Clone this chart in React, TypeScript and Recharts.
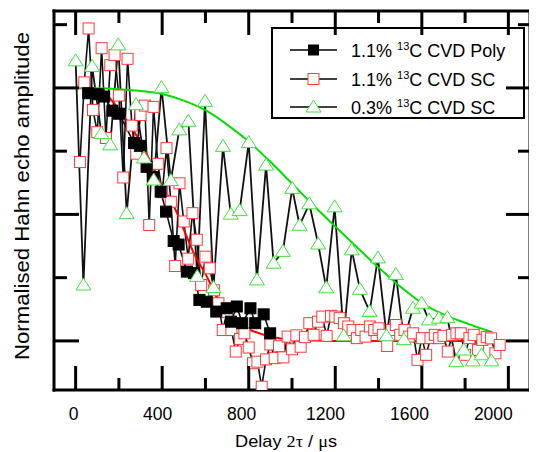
import React from "react";
import { LineChart, Line, XAxis, YAxis, Legend } from "recharts";

// x = delay 2tau (us), y = normalised Hahn echo amplitude
const xTicks = [0, 200, 400, 600, 800, 1000, 1200, 1400, 1600, 1800, 2000];
const yTicks = [0, 0.25, 0.5, 0.75, 1, 1.25];

// 1.1% 13C CVD Poly (filled black squares)
const polyT = [58, 105, 132, 170, 201, 270, 297, 328, 358, 393, 418, 453, 476, 514, 547, 572, 606, 650, 698, 718, 745, 770, 808, 830, 869, 899];
const polyA = [0.979, 0.975, 0.966, 0.91, 0.898, 0.782, 0.771, 0.688, 0.648, 0.59, 0.511, 0.395, 0.381, 0.274, 0.268, 0.162, 0.155, 0.116, 0.129, 0.076, 0.136, 0.07, 0.129, 0.07, 0.105, 0.03];

// 1.1% 13C CVD SC (open red squares)
const scT = [
  20, 40, 60, 80, 100, 120, 140, 160, 180, 200, 220, 240, 260, 280, 300, 320, 340, 360, 380, 400,
  420, 440, 460, 480, 500, 520, 540, 560, 580, 600, 620, 640, 660, 680, 700, 720, 740, 760, 780, 800,
  820, 840, 860, 880, 900, 920, 940, 960, 980, 1000, 1020, 1040, 1060, 1080, 1100, 1120, 1140, 1160, 1180, 1200,
  1220, 1240, 1260, 1280, 1300, 1320, 1340, 1360, 1380, 1400, 1420, 1440, 1460, 1480, 1500, 1520, 1540, 1560, 1580, 1600,
  1620, 1640, 1660, 1680, 1700, 1720, 1740, 1760, 1780, 1800, 1820, 1840, 1860, 1880, 1900, 1920, 1940, 1960,
];
const scA = [
  0.707, 1.022, 1.235, 0.913, 0.825, 1.157, 0.802, 1.09, 1.13, 0.97, 0.646, 1.115, 0.851, 0.74, 0.893, 0.93, 0.458, 0.925, 0.7, 0.588,
  0.762, 0.55, 0.296, 0.623, 0.472, 0.325, 0.505, 0.4, 0.221, 0.333, 0.287, 0.2, 0.149, 0.043, 0.115, 0.043, -0.042, 0.008, 0.03, -0.026,
  -0.088, -0.082, -0.181, -0.073, -0.014, -0.068, -0.021, -0.065, 0.017, -0.033, 0.022, -0.023, 0.015, 0.07, 0.024, 0.076, 0.096, 0.02, 0.099, 0.096,
  0.09, 0.07, 0.057, 0.043, 0.011, 0.043, 0.017, 0.057, 0.043, 0.05, 0.024, -0.02, 0.043, 0.063, 0.024, 0.043, 0.017, 0.03, -0.075, 0.011,
  -0.055, 0.011, 0.024, 0.011, 0.02, -0.042, 0.024, 0.03, 0.03, -0.055, 0.011, 0.024, -0.036, 0.004, 0.015, 0.01, -0.049, -0.016,
];

// 0.3% 13C CVD SC (open green triangles)
const lowT = [0, 36, 76, 119, 160, 197, 236, 279, 316, 361, 397, 440, 479, 521, 562, 598, 637, 681, 717, 758, 800, 838, 880, 915, 958, 1001, 1035, 1080, 1121, 1158, 1197, 1239, 1276, 1314, 1359, 1397, 1437, 1480, 1517, 1559, 1599, 1633, 1679, 1718, 1759, 1794, 1836, 1876, 1922];
const lowA = [1.107, 0.221, 1.085, 0.82, 0.775, 1.17, 0.503, 0.934, 0.723, 0.636, 1.001, 0.634, 0.834, 0.868, 0.255, 0.947, 0.211, 0.769, 0.501, 0.515, 0.784, 0.241, 0.695, 0.307, 0.354, 0.603, 0.457, 0.542, 0.383, 0.21, 0.53, 0.02, 0.36, 0.204, 0.116, 0.328, 0.02, 0.263, 0.005, 0.129, 0.149, 0.083, 0.09, 0.092, -0.082, -0.036, -0.079, -0.055, -0.079];

// fitted decay curves
const redFitT = [0, 50, 100, 150, 200, 250, 300, 350, 400, 450, 500, 550, 600, 650, 700, 750, 800, 850, 900, 950, 1000, 1100, 1200, 1400, 1600, 1800, 1975];
const redFitA = [1.0, 0.997, 0.988, 0.965, 0.915, 0.853, 0.785, 0.7, 0.61, 0.54, 0.44, 0.34, 0.265, 0.18, 0.115, 0.075, 0.046, 0.03, 0.017, 0.01, 0.005, 0.002, 0, 0, 0, 0, 0];
const greenFitT = [0, 100, 200, 300, 400, 500, 600, 700, 800, 900, 1000, 1100, 1200, 1300, 1400, 1500, 1600, 1700, 1800, 1900, 1920];
const greenFitA = [1.0, 0.999, 0.995, 0.988, 0.976, 0.95, 0.912, 0.855, 0.788, 0.708, 0.622, 0.535, 0.452, 0.37, 0.29, 0.215, 0.15, 0.105, 0.072, 0.042, 0.037];

const legendPct = ["1.1%", "1.1%", "0.3%"];
const legendTail = ["C CVD Poly", "C CVD SC", "C CVD SC"];

const pts = (t: number[], a: number[]) => t.map((v, i) => ({ t: v, a: a[i] }));
const polyData = pts(polyT, polyA);
const scData = pts(scT, scA);
const lowData = pts(lowT, lowA);
const redFit = pts(redFitT, redFitA);
const greenFit = pts(greenFitT, greenFitA);

const FONT = "'Liberation Sans', Arial, Helvetica, sans-serif";
const RED = "#ff3a3a";
const GREEN = "#3fe23f";

const squareDot = (fill: string, stroke: string) => (p: any) => {
  const { cx, cy, index } = p;
  if (cx == null || cy == null) return <g key={index} />;
  return <rect key={index} x={cx - 5.5} y={cy - 5.5} width={11} height={11} fill={fill} stroke={stroke} strokeWidth={1} />;
};

const triDot = (p: any) => {
  const { cx, cy, index } = p;
  if (cx == null || cy == null) return <g key={index} />;
  return (
    <polygon
      key={index}
      points={`${cx},${cy - 7} ${cx + 7.5},${cy + 5} ${cx - 7.5},${cy + 5}`}
      fill="#fff"
      stroke={GREEN}
      strokeWidth={1}
    />
  );
};

const BottomTick = (p: any) => {
  const { x, y, payload } = p;
  const v = payload.value;
  const major = v % 400 === 0;
  return (
    <g>
      <line x1={x} y1={y} x2={x} y2={y - (major ? 24 : 12)} stroke="#000" strokeWidth={3} />
      {major && (
        <text x={x - 2 - v * 0.0065} y={y + 30} textAnchor="middle" fontSize={17.5} fontFamily={FONT} fill="#000">
          {v}
        </text>
      )}
    </g>
  );
};

const TopTick = (p: any) => {
  const { x, y, payload } = p;
  const major = payload.value % 400 === 0;
  return <line x1={x} y1={y} x2={x} y2={y + (major ? 24 : 12)} stroke="#000" strokeWidth={3} />;
};

const LeftTick = (p: any) => {
  const { x, y, payload } = p;
  const major = Math.abs(payload.value * 2 - Math.round(payload.value * 2)) < 1e-6;
  return <line x1={x} y1={y} x2={x + (major ? 25 : 13)} y2={y} stroke="#000" strokeWidth={3} />;
};

const RightTick = (p: any) => {
  const { x, y, payload } = p;
  const major = Math.abs(payload.value * 2 - Math.round(payload.value * 2)) < 1e-6;
  return <line x1={x} y1={y} x2={x - (major ? 24 : 12)} y2={y} stroke="#000" strokeWidth={3} />;
};

const yTitle = () => (
  <text
    x={21}
    y={188}
    transform="rotate(-90 21 188)"
    textAnchor="middle"
    fontSize={19.5}
    fontFamily={FONT}
    fill="#000"
    textLength={328}
    lengthAdjust="spacingAndGlyphs"
  >
    Normalised Hahn echo amplitude
  </text>
);

const xTitle = () => (
  <text x={227} y={439} fontSize={17} fontFamily={FONT} fill="#000" textLength={102} lengthAdjust="spacingAndGlyphs">
    Delay <tspan fontFamily="'Liberation Serif', 'DejaVu Serif', serif">2τ</tspan> / <tspan fontFamily="'Liberation Serif', 'DejaVu Serif', serif">μ</tspan>s
  </text>
);

const LegendBox = () => {
  const rows = [23, 52, 80];
  return (
    <svg width={255} height={93} style={{ display: "block" }}>
      <rect x={1} y={1} width={252} height={90} fill="none" stroke="#000" strokeWidth={2} />
      {rows.map((cy, i) => (
        <g key={i}>
          <line x1={19} x2={66} y1={cy} y2={cy} stroke="#000" strokeWidth={1.6} />
          {i === 0 && <rect x={37} y={cy - 5.5} width={11} height={11} fill="#000" />}
          {i === 1 && <rect x={37} y={cy - 5.5} width={11} height={11} fill="#fff" stroke={RED} strokeWidth={1} />}
          {i === 2 && (
            <polygon points={`42.5,${cy - 7} 50,${cy + 5} 35,${cy + 5}`} fill="#fff" stroke={GREEN} strokeWidth={1} />
          )}
          <text x={80} y={cy + 6.5} fontSize={18} fontFamily={FONT} fill="#000">
            {legendPct[i]}{" "}
            <tspan fontSize={11} dy={-7}>13</tspan>
            <tspan dy={7}>{legendTail[i]}</tspan>
          </text>
        </g>
      ))}
    </svg>
  );
};

export default function App() {
  const frame = { stroke: "#000", strokeWidth: 3, strokeLinecap: "square" as const };
  return (
    <LineChart width={529} height={444} margin={{ top: 0, right: 0, bottom: 0, left: 0 }}>
      <XAxis
        xAxisId="b"
        type="number"
        dataKey="t"
        domain={[-100, 2100]}
        allowDataOverflow
        ticks={xTicks}
        interval={0}
        height={62}
        tickSize={0}
        tickMargin={0}
        tickLine={false}
        axisLine={frame}
        tick={BottomTick}
        label={xTitle}
      />
      <XAxis
        xAxisId="top"
        orientation="top"
        type="number"
        dataKey="t"
        domain={[-100, 2100]}
        allowDataOverflow
        ticks={xTicks}
        interval={0}
        height={3}
        tickSize={0}
        tickMargin={0}
        tickLine={false}
        axisLine={frame}
        tick={TopTick}
      />
      <YAxis
        yAxisId="l"
        type="number"
        domain={[-0.194, 1.304]}
        allowDataOverflow
        ticks={yTicks}
        interval={0}
        width={46}
        tickSize={0}
        tickMargin={0}
        tickLine={false}
        axisLine={frame}
        tick={LeftTick}
        label={yTitle}
      />
      <YAxis
        yAxisId="r"
        orientation="right"
        type="number"
        domain={[-0.194, 1.304]}
        allowDataOverflow
        ticks={yTicks}
        interval={0}
        width={7}
        tickSize={0}
        tickMargin={0}
        tickLine={false}
        axisLine={frame}
        tick={RightTick}
      />
      <Legend
        layout="vertical"
        align="center"
        verticalAlign="middle"
        wrapperStyle={{ left: 263, top: 19, width: 255, height: 93 }}
        content={LegendBox}
      />
      <Line
        xAxisId="b"
        yAxisId="l"
        data={scData}
        dataKey="a"
        name="1.1% 13C CVD SC"
        type="linear"
        stroke="#111"
        strokeWidth={1.6}
        dot={squareDot("#fff", RED)}
        isAnimationActive={false}
      />
      <Line
        xAxisId="b"
        yAxisId="l"
        data={polyData}
        dataKey="a"
        name="1.1% 13C CVD Poly"
        type="linear"
        stroke="#111"
        strokeWidth={1.6}
        dot={squareDot("#000", "#000")}
        isAnimationActive={false}
      />
      <Line
        xAxisId="b"
        yAxisId="l"
        data={lowData}
        dataKey="a"
        name="0.3% 13C CVD SC"
        type="linear"
        stroke="#111"
        strokeWidth={1.8}
        dot={triDot}
        isAnimationActive={false}
      />
      <Line
        xAxisId="top"
        yAxisId="r"
        data={redFit}
        dataKey="a"
        type="monotone"
        stroke="#ff0000"
        strokeWidth={2}
        dot={false}
        isAnimationActive={false}
      />
      <Line
        xAxisId="top"
        yAxisId="r"
        data={greenFit}
        dataKey="a"
        type="monotone"
        stroke="#00e000"
        strokeWidth={2}
        dot={false}
        isAnimationActive={false}
      />
    </LineChart>
  );
}
